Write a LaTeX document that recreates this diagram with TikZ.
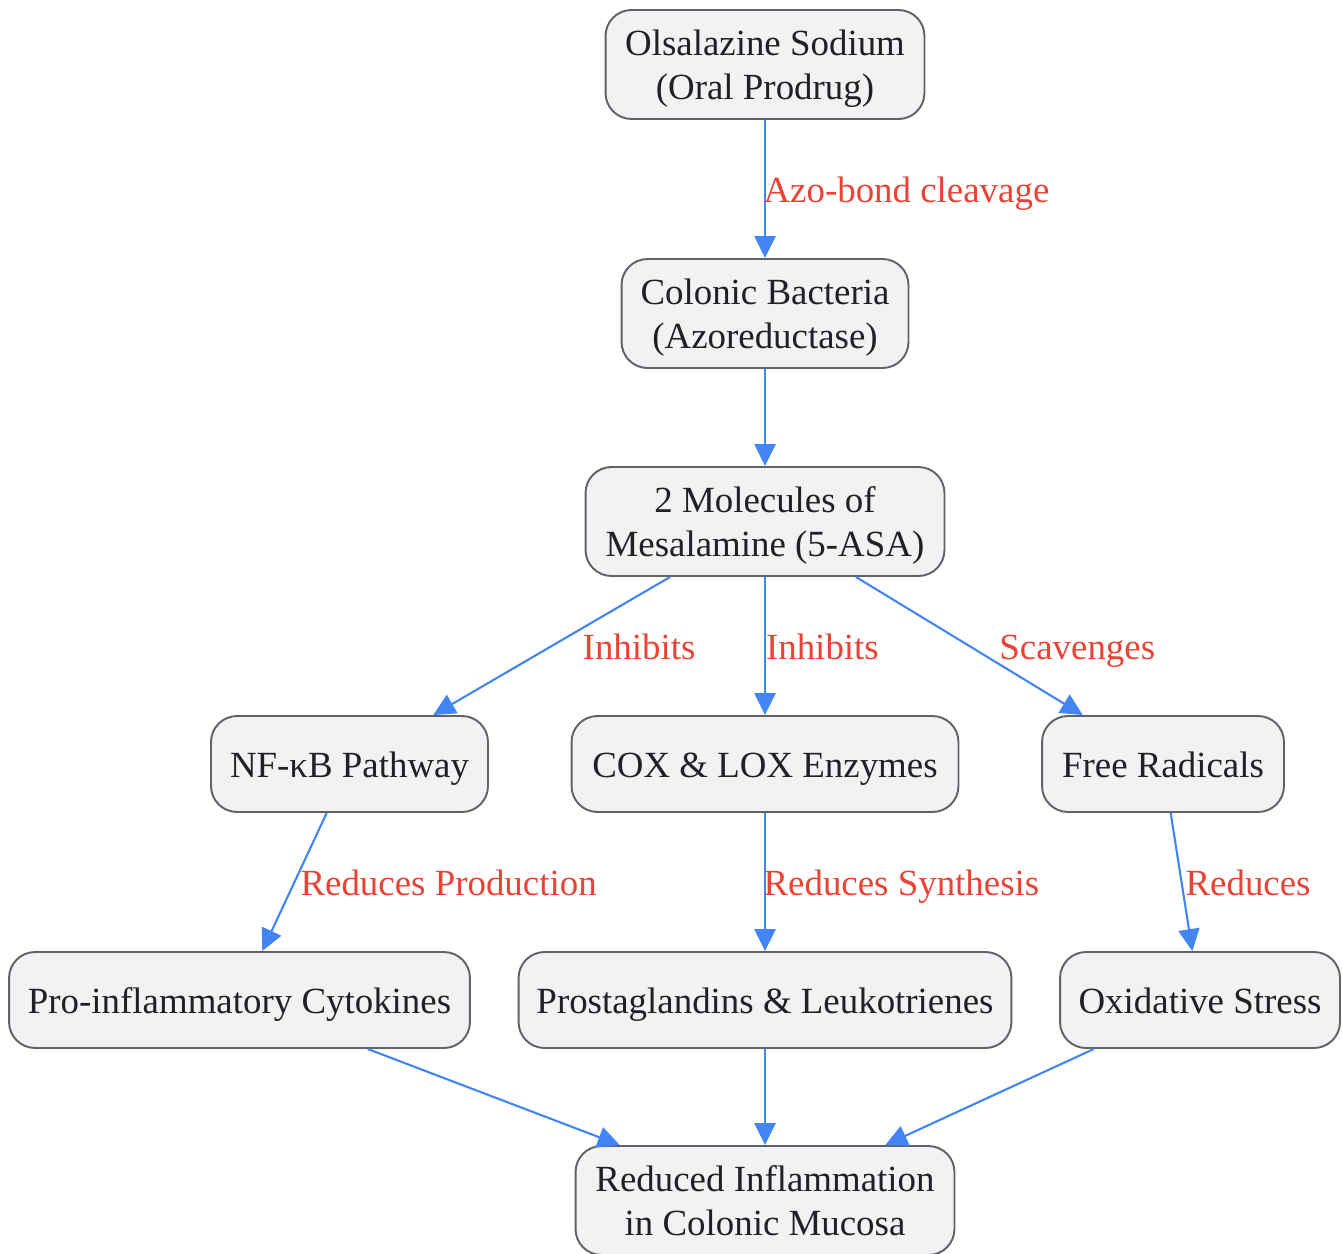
\documentclass[tikz,border=0pt]{standalone}
\usepackage{fontspec}
\setmainfont{Liberation Serif}
\usepackage{tikz}
\usetikzlibrary{arrows.meta}

\definecolor{boxfill}{HTML}{F1F2F4}
\definecolor{boxline}{HTML}{5F6368}
\definecolor{boxtext}{HTML}{202124}
\definecolor{flowblue}{HTML}{4285F4}
\definecolor{labelred}{HTML}{EA4335}

\tikzset{
	box/.style={draw=boxline, fill=boxfill, line width=1.1pt, rounded corners=0.52cm, text=boxtext, align=center, font=\fontsize{21}{25}\selectfont, inner sep=0pt},
	tallbox/.style={box, minimum height=2.18cm, text height=41.4pt, text depth=1.2pt},
	flatbox/.style={box, minimum height=1.92cm, text height=16pt, text depth=1.2pt},
	flow/.style={draw=flowblue, line width=1.2pt, -{Triangle[length=12.5pt,width=12pt]}},
	lbl/.style={text=labelred, font=\fontsize{21}{25}\selectfont, anchor=base west, inner sep=0pt, yshift=-0.27cm}
}

\begin{document}
\begin{tikzpicture}[x=0.02cm, y=-0.02cm]
	\useasboundingbox (0,0) rectangle (1342,1254);

	% nodes
	\node [tallbox, minimum width=6.38cm] (olsa) at (765,64.5) {Olsalazine Sodium\\(Oral Prodrug)};
	\node [tallbox, minimum width=5.74cm] (bact) at (765,313.5) {Colonic Bacteria\\(Azoreductase)};
	\node [tallbox, minimum width=7.18cm] (mesa) at (765,521.5) {2 Molecules of\\Mesalamine (5-ASA)};
	\node [flatbox, minimum width=5.54cm] (nfkb) at (349.5,764) {NF-κB Pathway};
	\node [flatbox, minimum width=7.74cm] (coxlox) at (765,764) {COX \& LOX Enzymes};
	\node [flatbox, minimum width=4.84cm] (radic) at (1163,764) {Free Radicals};
	\node [flatbox, minimum width=9.22cm] (cyto) at (239.5,1000) {Pro-inflammatory Cytokines};
	\node [flatbox, minimum width=9.86cm] (prost) at (765,1000) {Prostaglandins \& Leukotrienes};
	\node [flatbox, minimum width=5.60cm] (oxid) at (1200,1000) {Oxidative Stress};
	\node [tallbox, minimum width=7.58cm] (relief) at (765,1200.5) {Reduced Inflammation\\in Colonic Mucosa};

	% connectors
	\draw [flow] (olsa) -- node [lbl, pos=0.5, xshift=-0.05cm] {Azo-bond cleavage} (bact);
	\draw [flow] (bact) -- (mesa);
	\draw [flow] (mesa) -- node [lbl, pos=0.5, xshift=0.6cm] {Inhibits} (nfkb);
	\draw [flow] (mesa) -- node [lbl, pos=0.5] {Inhibits} (coxlox);
	\draw [flow] (mesa) -- node [lbl, pos=0.5, xshift=0.58cm] {Scavenges} (radic);
	\draw [flow] (nfkb) -- node [lbl, pos=0.5, xshift=0.1cm] {Reduces Production} (cyto);
	\draw [flow] (coxlox) -- node [lbl, pos=0.5, xshift=-0.05cm] {Reduces Synthesis} (prost);
	\draw [flow] (radic) -- node [lbl, pos=0.5, xshift=0.06cm] {Reduces} (oxid);
	\draw [flow] (cyto) -- (relief);
	\draw [flow] (prost) -- (relief);
	\draw [flow] (oxid) -- (relief);
\end{tikzpicture}
\end{document}
